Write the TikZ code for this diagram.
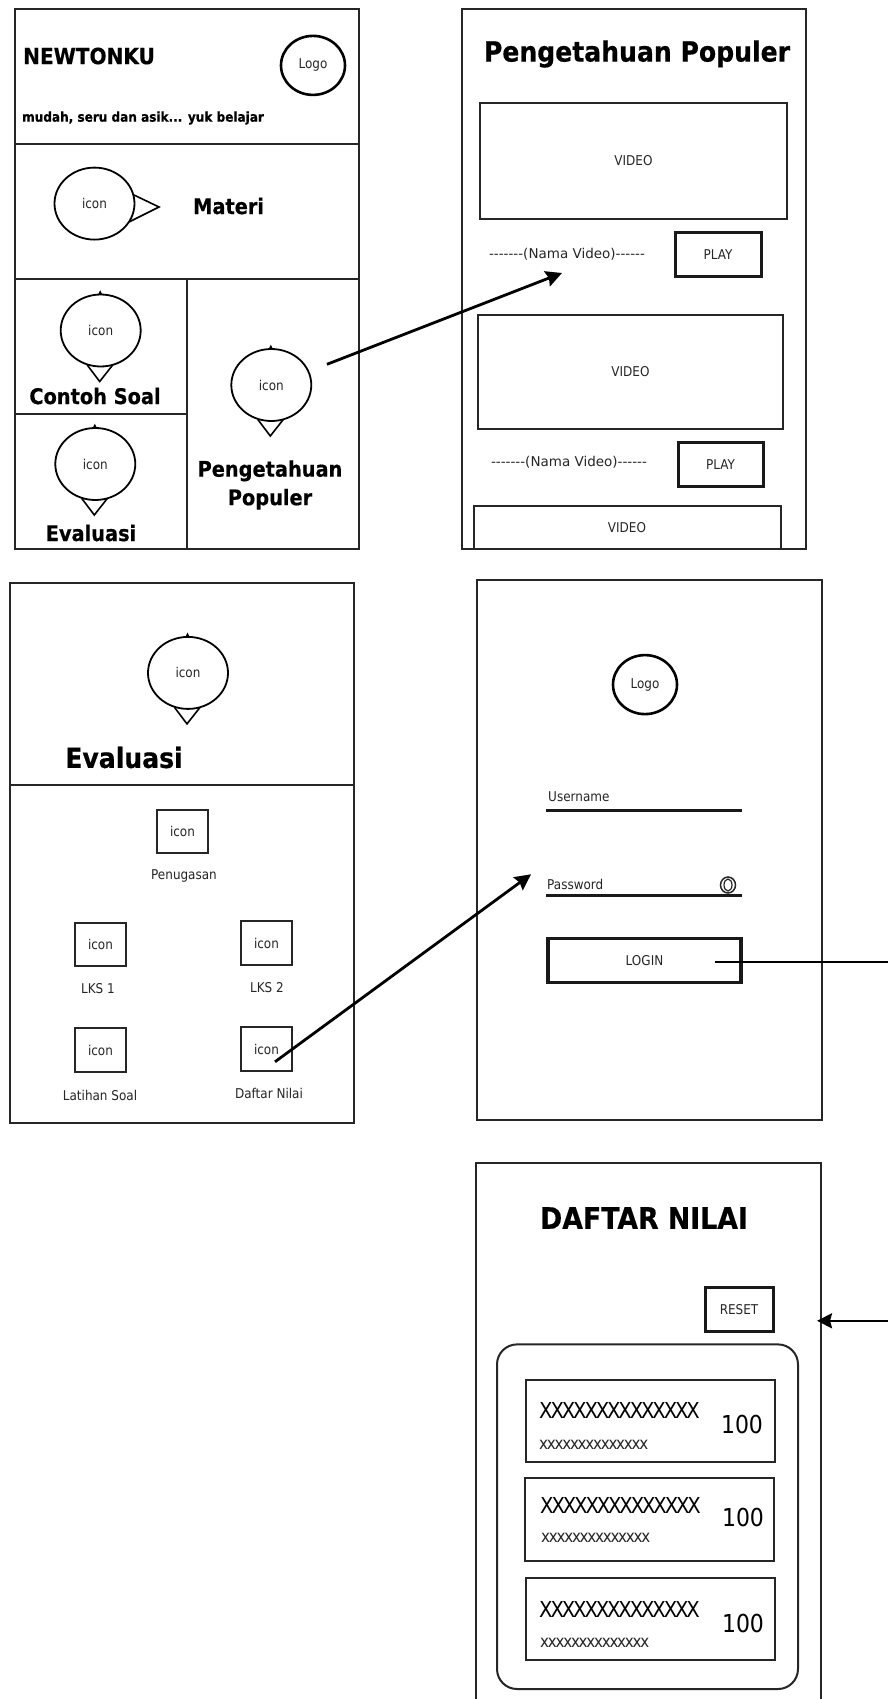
\documentclass[tikz,border=0pt]{standalone}
\usepackage{fontspec}
\setmainfont[FakeStretch=0.89,BoldFeatures={FakeStretch=0.9,FakeBold=0.5}]{DejaVu Sans}
\newfontfamily\nolig{DejaVu Sans}
\newfontfamily\bigx[FakeStretch=0.89,LetterSpace=-9.5]{DejaVu Sans}
\newfontfamily\smallx[FakeStretch=0.89,LetterSpace=-7.4]{DejaVu Sans}
\usetikzlibrary{arrows.meta,shapes.geometric}
\newcommand{\fsz}[1]{\fontsize{#1}{#1}\selectfont}
\tikzset{
  x=1pt,y=-1pt,
  ln/.style={draw=black!85,line width=2pt},
  panel/.style={ln,fill=white},
  txt/.style={inner sep=0pt,align=center,font=\fsz{13.5}\color{black!85}},
  left txt/.style={txt,anchor=west},
  head/.style={inner sep=0pt,align=center,font=\fsz{21.5}\bfseries},
  pinball/.style={ellipse,draw=black,line width=1.8pt,fill=white,minimum width=80pt,minimum height=72pt,inner sep=0pt,font=\fsz{13.5}\color{black!85}},
  logoball/.style={ellipse,draw=black,line width=2.6pt,fill=white,minimum width=64pt,minimum height=59pt,inner sep=0pt,font=\fsz{13.5}\color{black!85}},
  iconbox/.style={rectangle,draw=black!85,line width=2pt,minimum width=51pt,minimum height=43.5pt,inner sep=0pt,font=\fsz{13.5}\color{black!85}},
  btn/.style={draw=black!90,line width=3pt},
  flow/.style={draw=black,line width=2.8pt,-{Stealth[length=16pt,width=16pt,inset=2pt]}},
  plainflow/.style={draw=black,line width=2.2pt},
  bigxtxt/.style={inner sep=0pt,anchor=west,font=\fsz{22}\bigx},
  smallxtxt/.style={inner sep=0pt,anchor=west,font=\fsz{17}\smallx\color{black!85}},
  score/.style={inner sep=0pt,font=\fsz{24.7}},
  namatxt/.style={txt,font=\fsz{13.5}\nolig\color{black!85}},
}
% name, x, y : drop-shaped icon pointing down
\newcommand{\dropicon}[3]{%
  \draw[line width=1.2pt,fill=black] (#2-2,#3-36) -- (#2-0.5,#3-39) -- (#2+1,#3-36) -- cycle;
  \draw[line width=1.6pt,fill=white] (#2-13.5,#3+34.5) -- (#2-1,#3+51) -- (#2+12,#3+34.5);
  \node[pinball] (#1) at (#2,#3) {icon};
}
\begin{document}
\begin{tikzpicture}
\useasboundingbox (0,0) rectangle (888,1699);
\fill[white] (0,0) rectangle (888,1699);

% ---------- panel 1 : menu
\draw[panel] (14.5,9) rectangle (359,549);
\draw[ln] (14.5,144) -- (359,144);
\draw[ln] (14.5,279) -- (359,279);
\draw[ln] (186.5,279) -- (186.5,549);
\draw[ln] (14.5,414) -- (186.5,414);
\node[inner sep=0pt,anchor=west,font=\fsz{22.3}\bfseries] (newton) at (23,56) {NEWTONKU};
\node[logoball] (logoa) at (313,65.4) {Logo};
\node[inner sep=0pt,anchor=west,font=\fsz{13.4}\bfseries] (tagline) at (22,118) {mudah, seru dan asik... yuk belajar};
\draw[line width=1.6pt,fill=white] (134,195) -- (159,207) -- (129,222);
\node[pinball] (materiicon) at (94.5,203.6) {icon};
\node[head,anchor=west] (materi) at (193,206) {Materi};
\dropicon{contohicon}{100.7}{330.5}
\node[head] (contoh) at (95,396) {Contoh Soal};
\dropicon{evalicon}{95.3}{464}
\node[head] (evaltext) at (91,533) {Evaluasi};
\dropicon{popicon}{271.3}{385}
\node[head] (poptext) at (270,485) {Pengetahuan\\[7pt]Populer};

% ---------- panel 2 : Pengetahuan Populer
\draw[panel] (462,8.6) rectangle (806,549);
\node[inner sep=0pt,font=\fsz{27.9}\bfseries] (poptitle) at (637,54) {Pengetahuan Populer};
\node[ln,rectangle,minimum width=307pt,minimum height=115.7pt,inner sep=0pt,font=\fsz{13.5}\color{black!85}] (videoa) at (633.5,160.8) {VIDEO};
\node[namatxt] (namaa) at (567,254) {-------(Nama Video)------};
\node[btn,rectangle,minimum width=86pt,minimum height=44.5pt,inner sep=0pt,font=\fsz{13.5}\color{black!85}] (playa) at (718,254.7) {PLAY};
\node[ln,rectangle,minimum width=305pt,minimum height=113.6pt,inner sep=0pt,font=\fsz{13.5}\color{black!85}] (videob) at (630.5,371.8) {VIDEO};
\node[namatxt] (namab) at (569,462) {-------(Nama Video)------};
\node[btn,rectangle,minimum width=85pt,minimum height=44pt,inner sep=0pt,font=\fsz{13.5}\color{black!85}] (playb) at (720.5,464.5) {PLAY};
\draw[ln] (474,548) -- (474,505.7) -- (781,505.7) -- (781,548);
\node[txt] (videoc) at (627,528) {VIDEO};

% arrow panel 1 -> panel 2
\coordinate (popstart) at (327,364.3);
\coordinate (popend) at (562,273);
\draw[flow] (popstart) -- (popend);

% ---------- panel 3 : Evaluasi
\draw[panel] (9.5,582.9) rectangle (354,1122.9);
\draw[ln] (9.5,785.4) -- (354,785.4);
\dropicon{evalbig}{188}{672.9}
\node[inner sep=0pt,font=\fsz{27.9}\bfseries] (evalbigtext) at (124,757.5) {Evaluasi};
\node[iconbox] (ipen) at (182.5,831.4) {icon};
\node[txt] (lpen) at (184,876.4) {Penugasan};
\node[iconbox] (ilksa) at (100.5,944.5) {icon};
\node[txt] (llksa) at (98,989) {LKS 1};
\node[iconbox] (ilksb) at (266.5,943) {icon};
\node[txt] (llksb) at (267,987.9) {LKS 2};
\node[iconbox] (ilat) at (100.5,1050) {icon};
\node[txt] (llat) at (100,1095) {Latihan Soal};
\node[iconbox] (idaf) at (266.5,1049) {icon};
\node[txt] (ldaf) at (269,1093.9) {Daftar Nilai};

% ---------- panel 4 : login
\draw[panel] (477,579.6) rectangle (822,1119.6);
\node[logoball] (logob) at (645,684.6) {Logo};
\node[left txt] (user) at (548,797) {Username};
\coordinate (usera) at (546,810);
\coordinate (userb) at (742,810);
\draw[line width=3pt,draw=black!90] (usera) -- (userb);
\node[left txt] (pass) at (547,884) {Password};
\coordinate (passa) at (546,895.7);
\coordinate (passb) at (742,895.7);
\draw[line width=2.6pt,draw=black!90] (passa) -- (passb);
\node[ellipse,draw=black!85,line width=1.5pt,minimum width=15pt,minimum height=16pt,inner sep=0pt] (eyeo) at (728,885) {};
\node[ellipse,draw=black!85,line width=1.2pt,minimum width=8pt,minimum height=12pt,inner sep=0pt] (eyei) at (728,885) {};
\node[btn,rectangle,line width=3.4pt,minimum width=193pt,minimum height=44pt,inner sep=0pt,font=\fsz{13.5}\color{black!85}] (login) at (644.5,960.5) {LOGIN};

% arrow panel 3 -> panel 4
\coordinate (evalstart) at (275,1061.8);
\coordinate (evalend) at (531,874.3);
\draw[flow] (evalstart) -- (evalend);

% login connector leaving the picture
\coordinate (loginstart) at (715,962);
\coordinate (loginout) at (888,962);
\draw[plainflow] (loginstart) -- (loginout);

% ---------- panel 5 : Daftar Nilai
\draw[ln] (476,1699) -- (476,1162.5) -- (821,1162.5) -- (821,1699);
\node[inner sep=0pt,font=\fsz{29.7}\bfseries] (daftartitle) at (644,1218) {DAFTAR NILAI};
\node[btn,rectangle,minimum width=68pt,minimum height=44pt,inner sep=0pt,font=\fsz{13.5}\color{black!85}] (reset) at (739,1309.6) {RESET};
\draw[ln,rounded corners=20pt] (497,1344.4) rectangle (798,1689);
\draw[ln] (526,1379.7) rectangle (775,1462);
\draw[ln] (525,1478) rectangle (774,1560.5);
\draw[ln] (526,1577.6) rectangle (775,1660);
\node[bigxtxt] (xa) at (539,1410.7) {XXXXXXXXXXXXXX};
\node[smallxtxt] (sa) at (539,1445) {xxxxxxxxxxxxxx};
\node[score] (na) at (742,1424.6) {100};
\node[bigxtxt] (xb) at (540,1505) {XXXXXXXXXXXXXX};
\node[smallxtxt] (sb) at (541,1538) {xxxxxxxxxxxxxx};
\node[score] (nb) at (743,1517.7) {100};
\node[bigxtxt] (xc) at (539,1609.7) {XXXXXXXXXXXXXX};
\node[smallxtxt] (sc) at (540,1643) {xxxxxxxxxxxxxx};
\node[score] (nc) at (743,1623.6) {100};

% arrow into panel 5
\coordinate (resetin) at (888,1320.8);
\coordinate (resetend) at (817,1320.8);
\draw[flow,line width=2.4pt,-{Stealth[length=15pt,width=15pt,inset=2pt]}] (resetin) -- (resetend);
\end{tikzpicture}
\end{document}
